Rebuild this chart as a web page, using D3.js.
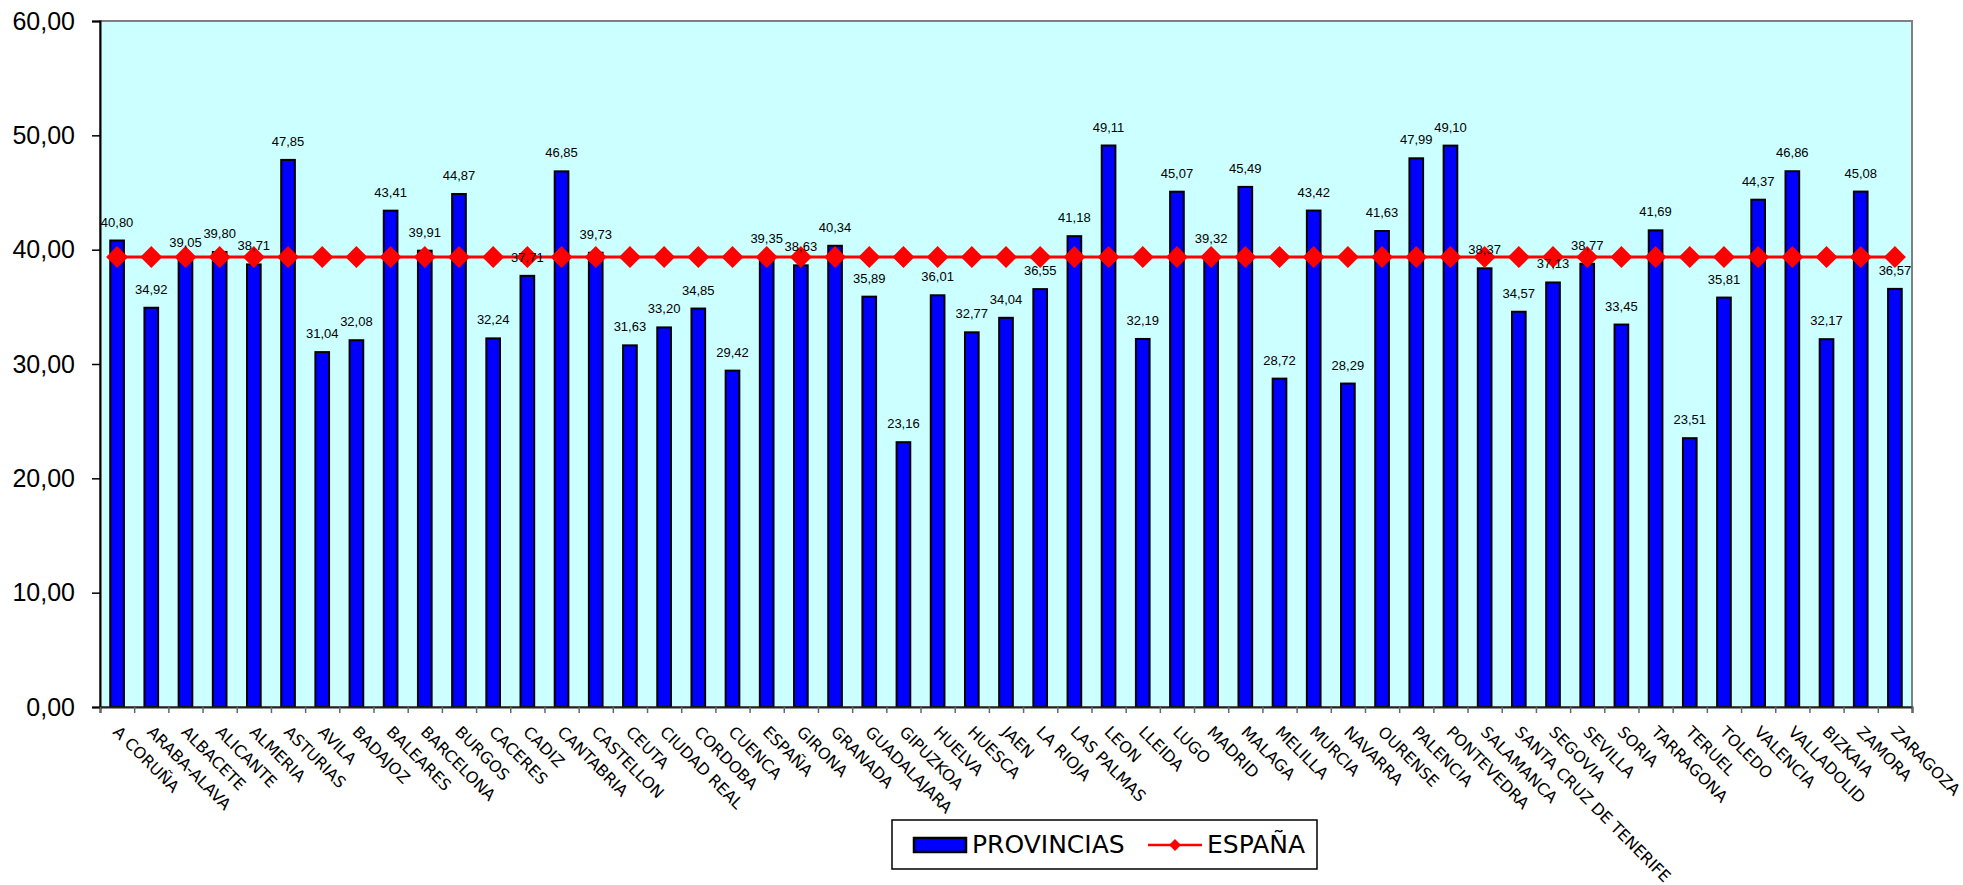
<!DOCTYPE html>
<html>
<head>
<meta charset="utf-8">
<script src="https://cdn.jsdelivr.net/npm/d3@7"></script>
<style>
  html, body { margin: 0; padding: 0; background: #ffffff; }
  svg { display: block; }
</style>
</head>
<body>
<svg id="chart" width="1963" height="885"></svg>
<script>
const categories = ["A CORUÑA","ARABA-ALAVA","ALBACETE","ALICANTE","ALMERIA","ASTURIAS","AVILA","BADAJOZ","BALEARES","BARCELONA","BURGOS","CACERES","CADIZ","CANTABRIA","CASTELLON","CEUTA","CIUDAD REAL","CORDOBA","CUENCA","ESPAÑA","GIRONA","GRANADA","GUADALAJARA","GIPUZKOA","HUELVA","HUESCA","JAEN","LA RIOJA","LAS PALMAS","LEON","LLEIDA","LUGO","MADRID","MALAGA","MELILLA","MURCIA","NAVARRA","OURENSE","PALENCIA","PONTEVEDRA","SALAMANCA","SANTA CRUZ DE TENERIFE","SEGOVIA","SEVILLA","SORIA","TARRAGONA","TERUEL","TOLEDO","VALENCIA","VALLADOLID","BIZKAIA","ZAMORA","ZARAGOZA"];
const provincias = [40.80,34.92,39.05,39.80,38.71,47.85,31.04,32.08,43.41,39.91,44.87,32.24,37.71,46.85,39.73,31.63,33.20,34.85,29.42,39.35,38.63,40.34,35.89,23.16,36.01,32.77,34.04,36.55,41.18,49.11,32.19,45.07,39.32,45.49,28.72,43.42,28.29,41.63,47.99,49.10,38.37,34.57,37.13,38.77,33.45,41.69,23.51,35.81,44.37,46.86,32.17,45.08,36.57];
const espana = categories.map(() => 39.35);
const yTicks = [0,10,20,30,40,50,60];
const seriesNames = ["PROVINCIAS","ESPAÑA"];

const svg = d3.select("#chart");
const plot = {left: 100, right: 1912, top: 21, bottom: 707};

const x = d3.scaleBand().domain(categories).range([plot.left, plot.right]).padding(0);
const y = d3.scaleLinear().domain([0, 60]).range([plot.bottom, plot.top]);
const fmt = v => d3.format(".2f")(v).replace(".", ",");

// plot background
svg.append("rect")
  .attr("x", plot.left).attr("y", plot.top)
  .attr("width", plot.right - plot.left).attr("height", plot.bottom - plot.top)
  .attr("fill", "#CCFFFF").attr("stroke", "#808080").attr("stroke-width", 2);

// bars
const bw = x.bandwidth() * 0.4;
svg.append("g").selectAll("rect").data(provincias).join("rect")
  .attr("x", (d, i) => x(categories[i]) + x.bandwidth() / 2 - bw / 2)
  .attr("y", d => y(d))
  .attr("width", bw)
  .attr("height", d => y(0) - y(d))
  .attr("fill", "#0000FF").attr("stroke", "#000000").attr("stroke-width", 2);

// y axis
const yAxis = svg.append("g").attr("transform", `translate(${plot.left},0)`)
  .call(d3.axisLeft(y).tickValues(yTicks).tickFormat(fmt).tickSize(8).tickPadding(17));
yAxis.select(".domain").attr("stroke", "#000").attr("stroke-width", 2);
yAxis.selectAll(".tick line").attr("stroke", "#000").attr("stroke-width", 1.5);
yAxis.selectAll("text").attr("font-family", "'Liberation Sans', Arial, sans-serif")
  .attr("font-size", 25).attr("fill", "#000");

// x axis: ticks at category boundaries
const xi = d3.scaleLinear().domain([0, categories.length]).range([plot.left, plot.right]);
const xAxis = svg.append("g").attr("transform", `translate(0,${plot.bottom})`)
  .call(d3.axisBottom(xi).tickValues(d3.range(0, categories.length + 1)).tickFormat("").tickSize(6));
xAxis.select(".domain").attr("stroke", "#222").attr("stroke-width", 2);
xAxis.selectAll(".tick line").attr("stroke", "#666").attr("stroke-width", 1.5);

// x labels
svg.append("g").selectAll("text").data(categories).join("text")
  .attr("transform", d => `translate(${x(d) + x.bandwidth() / 2 - 5},${plot.bottom + 26}) rotate(45)`)
  .attr("text-anchor", "start")
  .attr("font-family", "'DejaVu Sans', Verdana, sans-serif")
  .attr("font-size", 16).attr("fill", "#000")
  .text(d => d);

// ESPAÑA line
const line = d3.line().x((d, i) => x(categories[i]) + x.bandwidth() / 2).y(d => y(d));
svg.append("path").datum(espana).attr("d", line)
  .attr("fill", "none").attr("stroke", "#FF0000").attr("stroke-width", 3);
const diamond = d3.symbol().type(d3.symbolDiamond2).size(310);
svg.append("g").selectAll("path").data(espana).join("path")
  .attr("transform", (d, i) => `translate(${x(categories[i]) + x.bandwidth() / 2},${y(d)})`)
  .attr("d", diamond)
  .attr("fill", "#FF0000");

// data labels
svg.append("g").selectAll("text").data(provincias).join("text")
  .attr("x", (d, i) => x(categories[i]) + x.bandwidth() / 2)
  .attr("y", d => y(d) - 14)
  .attr("text-anchor", "middle")
  .attr("font-family", "'Liberation Sans', Arial, sans-serif")
  .attr("font-size", 13).attr("fill", "#000")
  .text(d => fmt(d));

// legend
const lg = svg.append("g");
lg.append("rect").attr("x", 892).attr("y", 820).attr("width", 425).attr("height", 49)
  .attr("fill", "#fff").attr("stroke", "#000").attr("stroke-width", 1.5);
lg.append("rect").attr("x", 914).attr("y", 838).attr("width", 52).attr("height", 14)
  .attr("fill", "#0000FF").attr("stroke", "#000").attr("stroke-width", 2.5);
lg.append("text").attr("x", 972).attr("y", 853)
  .attr("font-family", "'DejaVu Sans', Verdana, sans-serif").attr("font-size", 25)
  .text(seriesNames[0]);
lg.append("line").attr("x1", 1148).attr("x2", 1202).attr("y1", 845).attr("y2", 845)
  .attr("stroke", "#FF0000").attr("stroke-width", 2.5);
lg.append("path").attr("transform", "translate(1175,845)")
  .attr("d", d3.symbol().type(d3.symbolDiamond2).size(90)).attr("fill", "#FF0000");
lg.append("text").attr("x", 1207).attr("y", 853)
  .attr("font-family", "'DejaVu Sans', Verdana, sans-serif").attr("font-size", 25)
  .text(seriesNames[1]);
</script>
</body>
</html>
